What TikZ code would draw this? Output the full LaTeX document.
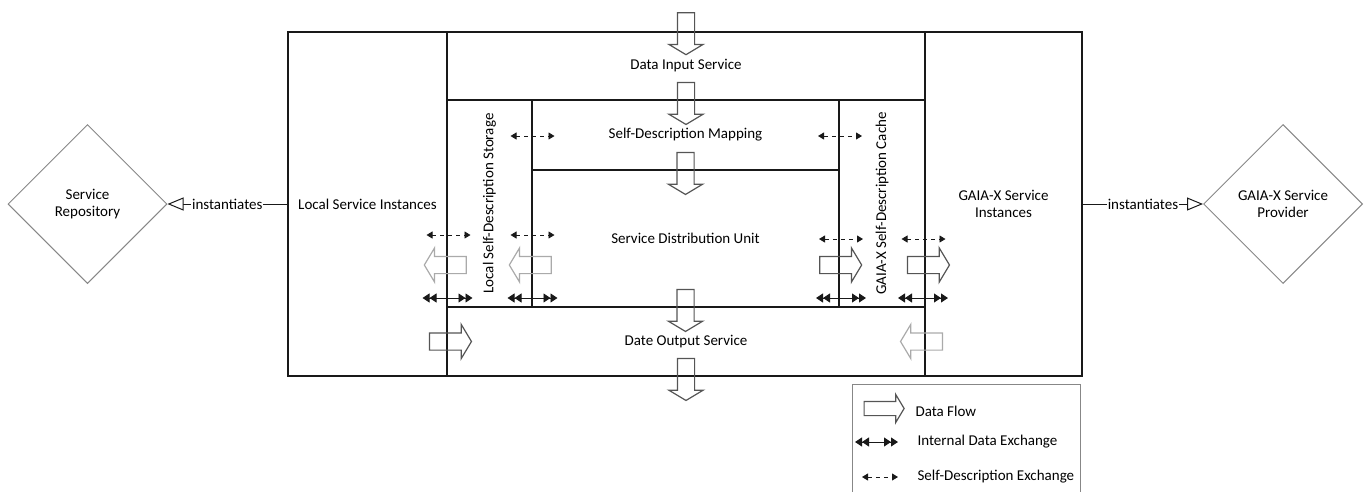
\documentclass[tikz,border=0pt]{standalone}
\usepackage{fontspec}
\setmainfont{Carlito}
\usetikzlibrary{arrows.meta,positioning,shapes.geometric,shapes.arrows}
\definecolor{LineDark}{RGB}{25,25,25}
\definecolor{FlowDark}{RGB}{85,85,85}
\definecolor{FlowLight}{RGB}{170,170,170}
\definecolor{ShapeGray}{RGB}{135,135,135}
\tikzset{
  region/.style={draw=LineDark,line width=1.8pt,inner sep=0pt,align=center},
  sdlabel/.style={rotate=90,inner sep=0pt},
  flowarrow/.style={single arrow,draw=FlowDark,line width=1.2pt,inner xsep=0pt,inner ysep=8pt,minimum height=42pt,minimum width=33pt,single arrow head extend=8.5pt,single arrow tip angle=118},
  flowlight/.style={flowarrow,draw=FlowLight},
  intex/.style={{Triangle[length=7pt,width=9pt]Triangle[length=7pt,width=9pt]}-{Triangle[length=7pt,width=9pt]Triangle[length=7pt,width=9pt]},line width=0.9pt,draw=LineDark},
  sdex/.style={{Triangle[length=6pt,width=7pt]}-{Triangle[length=6pt,width=7pt]},line width=0.9pt,dash pattern=on 4pt off 4pt,draw=LineDark},
  actor/.style={diamond,draw=ShapeGray,line width=1pt,minimum width=159pt,minimum height=159pt,inner sep=0pt,align=center},
  inst/.style={-{Triangle[open,length=16pt,width=13pt,fill=white]},line width=1pt,draw=LineDark},
  legendbox/.style={draw=ShapeGray,line width=1pt,minimum width=228pt,minimum height=125pt,inner sep=0pt}
}
\begin{document}
\begin{tikzpicture}[x=1pt,y=-1pt,font=\fontsize{15}{17}\selectfont]
\useasboundingbox (0,0) rectangle (1368,491);

% platform
\node[region,line width=2.2pt,minimum width=794,minimum height=344] (outer) at (685,204) {};
\node[region,minimum width=159,minimum height=344] (lsi) at (367.5,204) {Local Service Instances};
\node[region,minimum width=157,minimum height=344] (gsi) at (1003.5,204) {GAIA-X Service\\Instances};
\node[region,minimum width=478,minimum height=68] (dinput) at (686,66) {Data Input Service};
\node[region,minimum width=478,minimum height=69] (dout) at (686,341.5) {Date Output Service};
\node[region,minimum width=307,minimum height=70] (sdmap) at (685.5,135) {Self-Description Mapping};
\node[region,minimum width=307,minimum height=137] (sdu) at (685.5,238.5) {Service Distribution Unit};
\node[region,minimum width=85,minimum height=207] (lsds) at (489.5,203.5) {};
\node[region,minimum width=86,minimum height=207] (gsdc) at (882,203.5) {};
\node[sdlabel] (lsdstext) at (lsds.center) {Local Self-Description Storage};
\node[sdlabel] (gsdctext) at (gsdc.center) {GAIA-X Self-Description Cache};

% actors
\node[actor] (repo) at (87.5,204) {Service\\Repository};
\node[actor] (prov) at (1283,204) {GAIA-X Service\\Provider};
\draw[inst] (lsi.west) -- node[fill=white,inner sep=1pt] (inst1) {instantiates} (repo.east);
\draw[inst] (gsi.east) -- node[fill=white,inner sep=1pt] (inst2) {instantiates} (prov.west);

% data flow
\foreach \nm/\at in {fd1/dinput.north,fd2/dinput.south,fd3/sdmap.south,fd4/sdu.south,fd5/dout.south}
  \node[flowarrow,rotate=-90] (\nm) at (\at) {};
\coordinate (flowrow) at (0,265);
\node[flowlight,rotate=180] (fl1) at (lsi.east |- flowrow) {};
\node[flowlight,rotate=180] (fl2) at (lsds.east |- flowrow) {};
\node[flowarrow] (fr1) at (gsdc.west |- flowrow) {};
\node[flowarrow] (fr2) at (gsdc.east |- flowrow) {};
\node[flowarrow] (fo1) at (lsi.east |- dout) {};
\node[flowlight,rotate=180] (fo2) at (gsi.west |- dout) {};

% exchanges
\foreach \i/\x in {1/447.5,2/532.5,3/841,4/923}{
  \coordinate (ixa\i) at (\x-25,298);
  \coordinate (ixb\i) at (\x+25,298);
  \draw[intex] (ixa\i) -- (ixb\i);
}
\foreach \i/\x/\y in {1/532.5/136,2/840/136,3/448.5/235,4/532.5/235,5/841/239,6/923.5/239}{
  \coordinate (sda\i) at (\x-22,\y);
  \coordinate (sdb\i) at (\x+22,\y);
  \draw[sdex] (sda\i) -- (sdb\i);
}

% legend
\node[legendbox,anchor=north west] (legend) at (851.5,383.5) {};
\node[flowarrow,minimum height=40pt,minimum width=27pt,inner ysep=6.5pt,single arrow head extend=7pt] (lgflow) at (882,408.5) {};
\node[anchor=west] (lgflowtext) at (912,411) {Data Flow};
\coordinate (lgixa) at (855,442);
\coordinate (lgixb) at (898,442);
\draw[intex] (lgixa) -- (lgixb);
\node[anchor=west] (lgixtext) at (914,442) {Internal Data Exchange};
\coordinate (lgsda) at (862,477);
\coordinate (lgsdb) at (898,477);
\draw[sdex] (lgsda) -- (lgsdb);
\node[anchor=west] (lgsdtext) at (914,477) {Self-Description Exchange};
\end{tikzpicture}
\end{document}
